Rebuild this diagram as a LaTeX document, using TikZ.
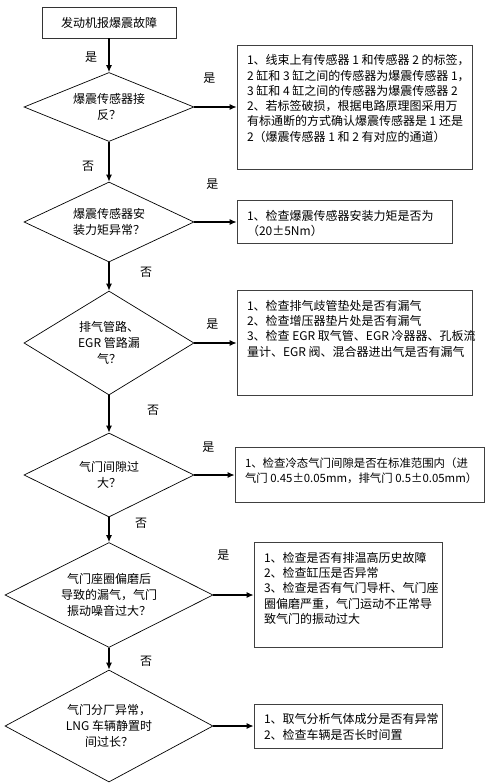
\documentclass[tikz,border=0pt]{standalone}
\usepackage{fontspec}
\setmainfont{Noto Sans CJK SC}
\usetikzlibrary{shapes.geometric,arrows.meta}

% fixed-size box, text at the top
\newcommand{\notetext}[3]{%
  \parbox[c][#2][t]{#1}{\begin{tabular}[t]{@{}l@{}}#3\end{tabular}}}

\tikzset{
  topbox/.style={draw=black!80, line width=0.8pt, minimum width=134pt,
    minimum height=31pt, inner sep=0pt, font=\fontsize{12}{15}\selectfont},
  decision/.style={diamond, draw, line width=0.7pt, inner sep=0pt, align=center,
    font=\fontsize{12}{16}\selectfont},
  note/.style={draw=black!75, line width=0.8pt, inner xsep=10pt, inner ysep=9pt,
    font=\fontsize{12}{15.3}\selectfont},
  arr/.style={-{Latex[length=7pt,width=6pt]}, line width=1.1pt},
  lbl/.style={font=\fontsize{12}{14}\selectfont, inner sep=0pt},
}

\begin{document}
\begin{tikzpicture}[x=1pt, y=-1pt]
  \useasboundingbox (0,0) rectangle (486,784);

  \node[topbox] (top) at (109,22.5) {发动机报爆震故障};

  \node[decision, minimum width=170pt, minimum height=69pt, aspect=2.46]
    (d1) at (109,107) {爆震传感器接\\反？};
  \node[decision, minimum width=170pt, minimum height=80pt, aspect=2.12]
    (d2) at (109,222) {爆震传感器安\\装力矩异常？};
  \node[decision, minimum width=170pt, minimum height=104pt, aspect=1.63]
    (d3) at (109,343) {排气管路、\\EGR 管路漏\\气？};
  \node[decision, minimum width=170pt, minimum height=84pt, aspect=2.02]
    (d4) at (109,475) {气门间隙过\\大？};
  \node[decision, minimum width=208pt, minimum height=105pt, aspect=1.98]
    (d5) at (109,595) {气门座圈偏磨后\\导致的漏气，气门\\振动噪音过大？};
  \node[decision, minimum width=208pt, minimum height=112pt, aspect=1.86]
    (d6) at (109,726) {气门分厂异常，\\LNG 车辆静置时\\间过长？};

  \node[note] (b1) at (354.5,107) {\notetext{215pt}{106pt}{%
    1、线束上有传感器 1 和传感器 2 的标签，\\
    2 缸和 3 缸之间的传感器为爆震传感器 1，\\
    3 缸和 4 缸之间的传感器为爆震传感器 2\\
    2、若标签破损，根据电路原理图采用万\\
    有标通断的方式确认爆震传感器是 1 还是\\
    2（爆震传感器 1 和 2 有对应的通道）}};
  \node[note] (b2) at (344.5,222) {\notetext{195pt}{25pt}{%
    1、检查爆震传感器安装力矩是否为\\
    （20±5Nm）}};
  \node[note] (b3) at (354.5,343) {\notetext{215pt}{87pt}{%
    1、检查排气歧管垫处是否有漏气\\
    2、检查增压器垫片处是否有漏气\\
    3、检查 EGR 取气管、EGR 冷器器、孔板流\\
    量计、EGR 阀、混合器进出气是否有漏气}};
  \node[note, font=\fontsize{11.4}{15.3}\selectfont] (b4) at (359.5,475)
    {\notetext{229pt}{37pt}{%
    1、检查冷态气门间隙是否在标准范围内（进\\
    气门 0.45±0.05mm，排气门 0.5±0.05mm）}};
  \node[note] (b5) at (348,595) {\notetext{168pt}{87pt}{%
    1、检查是否有排温高历史故障\\
    2、检查缸压是否异常\\
    3、检查是否有气门导杆、气门座\\
    圈偏磨严重，气门运动不正常导\\
    致气门的振动过大}};
  \node[note] (b6) at (348,726) {\notetext{168pt}{26pt}{%
    1、取气分析气体成分是否有异常\\
    2、检查车辆是否长时间置}};

  \draw[arr] (top) -- (d1) node[lbl, midway, xshift=-18pt, yshift=-2pt] {是};
  \draw[arr] (d1) -- (d2) node[lbl, midway, xshift=-21pt, yshift=-5pt] {否};
  \draw[arr] (d2) -- (d3) node[lbl, midway, xshift=37pt, yshift=4pt] {否};
  \draw[arr] (d3) -- (d4) node[lbl, midway, xshift=44pt, yshift=4pt] {否};
  \draw[arr] (d4) -- (d5) node[lbl, midway, xshift=32pt, yshift=6pt] {否};
  \draw[arr] (d5) -- (d6) node[lbl, midway, xshift=37pt, yshift=-3pt] {否};

  \draw[arr] (d1) -- (b1) node[lbl, midway, xshift=-6pt, yshift=29pt] {是};
  \draw[arr] (d2) -- (b2) node[lbl, midway, xshift=-3pt, yshift=38pt] {是};
  \draw[arr] (d3) -- (b3) node[lbl, midway, xshift=-3pt, yshift=19pt] {是};
  \draw[arr] (d4) -- (b4) node[lbl, midway, xshift=-6pt, yshift=28pt] {是};
  \draw[arr] (d5) -- (b5) node[lbl, midway, xshift=-10pt, yshift=40pt] {是};
  \draw[arr] (d6) -- (b6);
\end{tikzpicture}
\end{document}
